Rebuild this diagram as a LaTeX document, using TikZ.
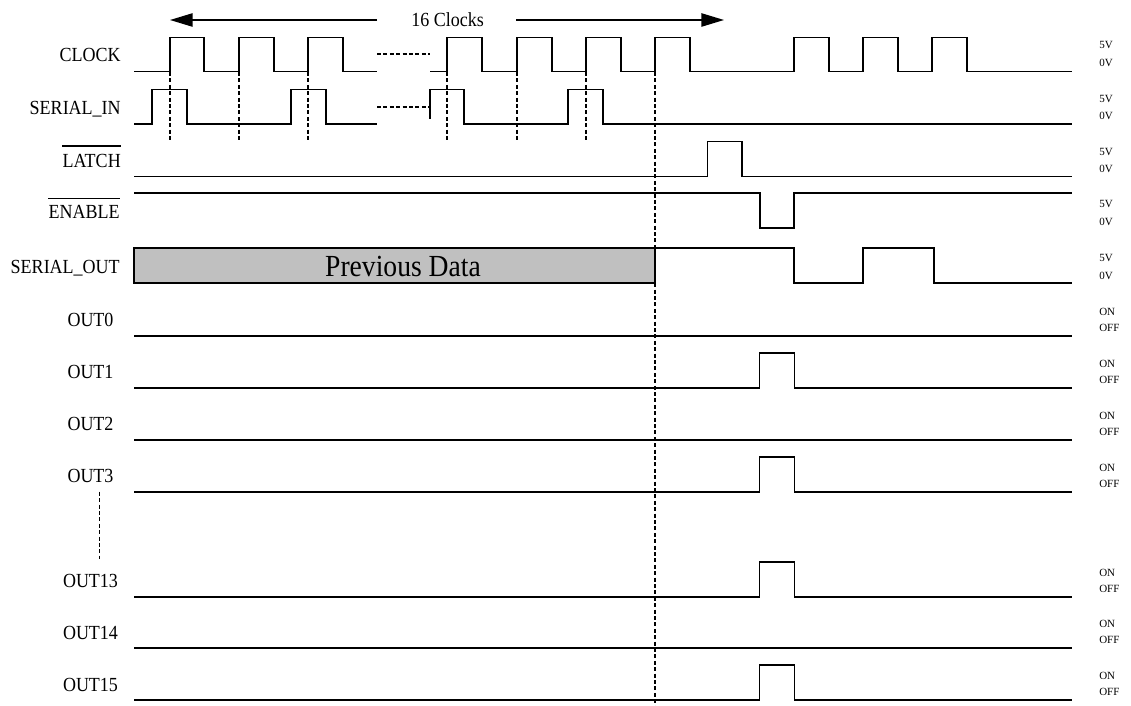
\documentclass[tikz,border=0pt]{standalone}
\usepackage{fontspec}
\setmainfont{Liberation Serif}
\newfontfamily\lblfont{Liberation Serif}[FakeStretch=0.9]
\usetikzlibrary{arrows.meta}
\begin{document}
\begin{tikzpicture}[x=0.75pt,y=-0.75pt,
  sig/.style={line width=1.1pt,line join=miter},
  dsh/.style={line width=1pt,dash pattern=on 3pt off 1.8pt},
  lbl/.style={font=\lblfont\fontsize{15}{18}\selectfont,inner sep=0pt,anchor=base east},
  olbl/.style={font=\lblfont\fontsize{15}{18}\selectfont,inner sep=0pt,anchor=base},
  lvl/.style={font=\fontsize{8.25}{10}\selectfont,inner sep=0pt,anchor=base west},
  bar/.style={line width=0.9pt},
  arr/.style={line width=1.1pt,-{Triangle[length=17pt,width=10pt]}}
]
\useasboundingbox (0,0) rectangle (1131,706);

% title arrows
\node[font=\lblfont\fontsize{15}{18}\selectfont,inner sep=0pt,anchor=base] (clk16) at (447.5,27) {16 Clocks};
\coordinate (a1s) at (377,20);
\coordinate (a1e) at (170,20);
\coordinate (a2s) at (516,20);
\coordinate (a2e) at (724,20);
\draw[arr] (a1s) -- (a1e);
\draw[arr] (a2s) -- (a2e);

% left labels
\node[lbl] (lclk) at (121,62) {CLOCK};
\node[lbl] (lsin) at (121,115) {SERIAL\_IN};
\node[lbl] (llat) at (121,167) {LATCH};
\node[lbl] (lena) at (120,219) {ENABLE};
\node[lbl] (lsout) at (120,273.5) {SERIAL\_OUT};
\draw[bar] ([yshift=5.6pt]llat.north west) -- ([yshift=5.6pt]llat.north east);
\draw[bar] ([yshift=5pt]lena.north west) -- ([yshift=5pt]lena.north east);

\node[olbl] (lo0) at (90.5,326) {OUT0};
\node[olbl] (lo1) at (90.5,378) {OUT1};
\node[olbl] (lo2) at (90.5,430) {OUT2};
\node[olbl] (lo3) at (90.5,482.5) {OUT3};
\node[olbl] (lo13) at (90.5,587) {OUT13};
\node[olbl] (lo14) at (90.5,639) {OUT14};
\node[olbl] (lo15) at (90.5,691) {OUT15};
\coordinate (od1) at (99.5,491.7);
\coordinate (od2) at (99.5,559);
\draw[dsh] (od1) -- (od2);

% right level labels
\node[lvl] (v1a) at (1099,49) {5V};
\node[lvl] (v1b) at (1099,67) {0V};
\node[lvl] (v2a) at (1099,103) {5V};
\node[lvl] (v2b) at (1099,120) {0V};
\node[lvl] (v3a) at (1099,156) {5V};
\node[lvl] (v3b) at (1099,172) {0V};
\node[lvl] (v4a) at (1099,208) {5V};
\node[lvl] (v4b) at (1099,225) {0V};
\node[lvl] (v5a) at (1099,261) {5V};
\node[lvl] (v5b) at (1099,279) {0V};
\foreach \yy/\nm in {336/0,388/1,440/2,492/3,597/13,648/14,700/15}{
  \node[lvl] (on\nm) at (1099,\yy-21) {ON};
  \node[lvl] (off\nm) at (1099,\yy-5) {OFF};
}

% CLOCK
\draw[sig] (134,71.5) -| (170,37.5) -| (204,71.5) -| (239,37.5) -| (274,71.5) -| (308,37.5) -| (343,71.5) -- (377,71.5);
\draw[sig] (430,71.5) -| (447,37.5) -| (482,71.5) -| (517,37.5) -| (552,71.5) -| (586,37.5) -| (621,71.5) -| (655,37.5) -| (690,71.5) -| (794,37.5) -| (829,71.5) -| (863,37.5) -| (898,71.5) -| (932,37.5) -| (967,71.5) -- (1072,71.5);
\draw[dsh] (377,54) -- (430,54);

% SERIAL_IN
\draw[sig] (134,124) -| (152,89.5) -| (187,124) -| (291,89.5) -| (326,124) -- (377,124);
\draw[sig] (430,119) -- (430,89.5) -| (464,124) -| (568,89.5) -| (603,124) -- (1072,124);
\draw[dsh] (377,107) -- (430,107);

% sampling dashes
\foreach \xx in {170,239,308,447,517,586}{
  \draw[dsh] (\xx,72) -- (\xx,140);
}

% LATCH
\draw[sig] (134,176.7) -| (707.7,141.7) -| (742,176.7) -- (1072,176.7);
% ENABLE
\draw[sig] (134,193) -| (760,228) -| (794,193) -- (1072,193);
% SERIAL_OUT
\draw[sig,fill={rgb,255:red,192;green,192;blue,192}] (134,248) rectangle (655,283);
\node[font=\lblfont\fontsize{23}{26}\selectfont,inner sep=0pt,anchor=base] (prev) at (403,276) {Previous Data};
\draw[sig] (655,248) -| (794,283) -| (863,248) -| (934,283) -- (1072,283);

% OUT rows
\foreach \yy in {336,440,648}{
  \draw[sig] (134,\yy) -- (1072,\yy);
}
\foreach \yy in {388,492,597,700}{
  \draw[sig] (134,\yy) -| (759.5,\yy-35) -| (794.3,\yy) -- (1072,\yy);
}

% long dashed line
\coordinate (ld1) at (655,72);
\coordinate (ld2) at (655,706);
\draw[dsh] (ld1) -- (ld2);
\end{tikzpicture}
\end{document}
